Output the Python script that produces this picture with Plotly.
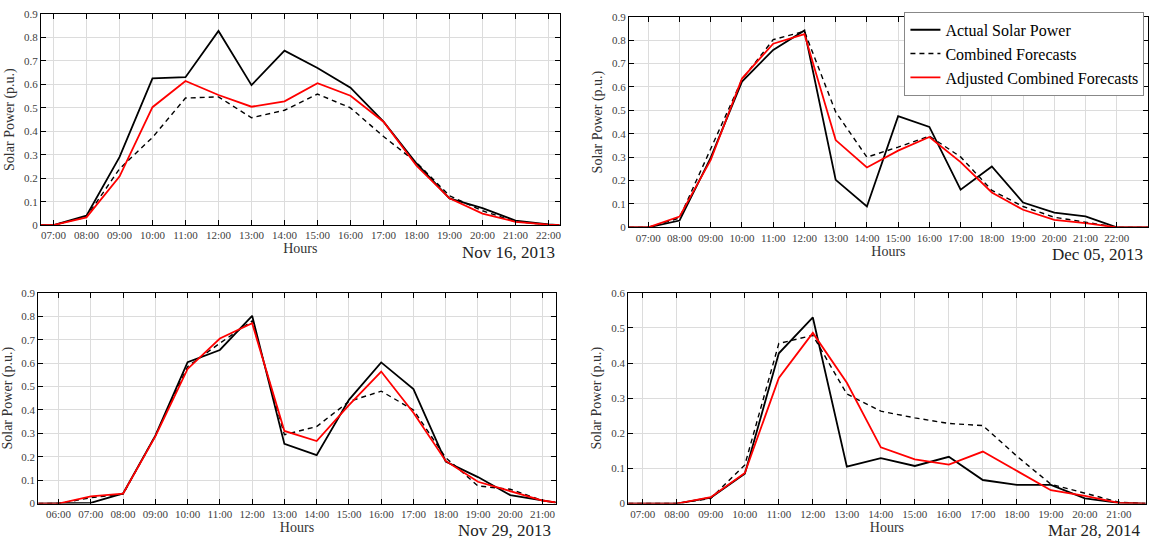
import plotly.graph_objects as go

# ---------------- data ----------------
# Nov 16, 2013
hours_a = [6.62, 7, 8, 9, 10, 11, 12, 13, 14, 15, 16, 17, 18, 19, 20, 21, 22, 22.34]
actual_a = [0, 0, 0.040, 0.290, 0.626, 0.631, 0.828, 0.597, 0.744, 0.670, 0.586, 0.441, 0.263, 0.114, 0.072, 0.019, 0.003, 0]
comb_a = [0, 0, 0.035, 0.240, 0.374, 0.542, 0.547, 0.458, 0.490, 0.559, 0.500, 0.378, 0.267, 0.125, 0.061, 0.014, 0.002, 0]
adj_a = [0, 0, 0.033, 0.207, 0.503, 0.615, 0.555, 0.505, 0.528, 0.605, 0.552, 0.441, 0.253, 0.114, 0.049, 0.014, 0.002, 0]

# Dec 05, 2013
hours_b = [6.38, 7, 8, 9, 10, 11, 12, 13, 14, 15, 16, 17, 18, 19, 20, 21, 22, 23.0]
actual_b = [0, 0, 0.029, 0.298, 0.623, 0.758, 0.841, 0.203, 0.089, 0.475, 0.429, 0.161, 0.260, 0.106, 0.063, 0.047, 0, 0]
comb_b = [0, 0, 0.040, 0.333, 0.632, 0.802, 0.838, 0.493, 0.300, 0.343, 0.390, 0.301, 0.158, 0.089, 0.043, 0.022, 0, 0]
adj_b = [0, 0, 0.046, 0.288, 0.636, 0.785, 0.826, 0.373, 0.256, 0.328, 0.386, 0.279, 0.149, 0.075, 0.032, 0.018, 0, 0]

# Nov 29, 2013
hours_c = [5.37, 6, 7, 8, 9, 10, 11, 12, 13, 14, 15, 16, 17, 18, 19, 20, 21, 21.41]
actual_c = [0, 0, 0.003, 0.043, 0.290, 0.604, 0.656, 0.802, 0.255, 0.207, 0.443, 0.603, 0.489, 0.179, 0.113, 0.036, 0.011, 0.004]
comb_c = [0, 0, 0.025, 0.040, 0.290, 0.585, 0.685, 0.780, 0.294, 0.329, 0.436, 0.480, 0.400, 0.196, 0.075, 0.061, 0.013, 0.005]
adj_c = [0, 0, 0.031, 0.042, 0.287, 0.575, 0.705, 0.770, 0.310, 0.267, 0.420, 0.564, 0.388, 0.182, 0.093, 0.054, 0.013, 0.005]

# Mar 28, 2014
hours_d = [6.57, 7, 8, 9, 10, 11, 12, 13, 14, 15, 16, 17, 18, 19, 20, 21, 21.79]
actual_d = [0, 0, 0, 0.017, 0.085, 0.428, 0.530, 0.105, 0.129, 0.107, 0.133, 0.067, 0.053, 0.053, 0.015, 0.002, 0]
comb_d = [0, 0, 0, 0.015, 0.110, 0.456, 0.479, 0.312, 0.263, 0.244, 0.228, 0.222, 0.135, 0.055, 0.029, 0.004, 0]
adj_d = [0, 0, 0, 0.018, 0.087, 0.358, 0.486, 0.344, 0.160, 0.126, 0.111, 0.148, 0.092, 0.038, 0.022, 0.002, 0]

series_names = ["Actual Solar Power", "Combined Forecasts", "Adjusted Combined Forecasts"]
dates = ["Nov 16, 2013", "Dec 05, 2013", "Nov 29, 2013", "Mar 28, 2014"]

ticks_a = list(range(7, 23))
ticks_b = list(range(7, 23))
ticks_c = list(range(6, 22))
ticks_d = list(range(7, 22))

yticks_09 = [0, 0.1, 0.2, 0.3, 0.4, 0.5, 0.6, 0.7, 0.8, 0.9]
yticks_06 = [0, 0.1, 0.2, 0.3, 0.4, 0.5, 0.6]

# ---------------- layout ----------------
W, H = 1156, 547
FONT = "Liberation Serif"

panels = [
    dict(h=hours_a, a=actual_a, c=comb_a, r=adj_a, ticks=ticks_a, yt=yticks_09, ymax=0.9,
         px=(41, 560.7), py=(8.3, 224), date=dates[0]),
    dict(h=hours_b, a=actual_b, c=comb_b, r=adj_b, ticks=ticks_b, yt=yticks_09, ymax=0.9,
         px=(630, 1150), py=(11, 226.3), date=dates[1]),
    dict(h=hours_c, a=actual_c, c=comb_c, r=adj_c, ticks=ticks_c, yt=yticks_09, ymax=0.9,
         px=(38.3, 556.7), py=(293.3, 508.7), date=dates[2]),
    dict(h=hours_d, a=actual_d, c=comb_d, r=adj_d, ticks=ticks_d, yt=yticks_06, ymax=0.6,
         px=(629.3, 1147.7), py=(293.3, 508.7), date=dates[3]),
]

fig = go.Figure()
annotations = []
for i, p in enumerate(panels, start=1):
    xa = "x" if i == 1 else f"x{i}"
    ya = "y" if i == 1 else f"y{i}"
    show = (i == 2)
    fig.add_trace(go.Scatter(x=p["h"], y=p["c"], mode="lines", name=series_names[1],
                             line=dict(color="black", width=1.4, dash="5px,4px"),
                             xaxis=xa, yaxis=ya, showlegend=show, legendrank=2))
    fig.add_trace(go.Scatter(x=p["h"], y=p["a"], mode="lines", name=series_names[0],
                             line=dict(color="black", width=1.8),
                             xaxis=xa, yaxis=ya, showlegend=show, legendrank=1))
    fig.add_trace(go.Scatter(x=p["h"], y=p["r"], mode="lines", name=series_names[2],
                             line=dict(color="#ff0000", width=1.8),
                             xaxis=xa, yaxis=ya, showlegend=show, legendrank=3))

    x0, x1 = p["px"]
    y0, y1 = p["py"]
    xdom = [x0 / W, x1 / W]
    ydom = [1 - y1 / H, 1 - y0 / H]
    common = dict(showline=True, linecolor="black", linewidth=1, mirror="ticks",
                  ticks="inside", ticklen=5, tickcolor="black",
                  showgrid=True, gridcolor="#dcdcdc", gridwidth=1, zeroline=False,
                  tickfont=dict(family=FONT, size=11, color="#404040"))
    key_x = "xaxis" if i == 1 else f"xaxis{i}"
    key_y = "yaxis" if i == 1 else f"yaxis{i}"
    fig.update_layout({
        key_x: dict(common, domain=xdom, anchor=ya, range=[p["h"][0], p["h"][-1]],
                    tickvals=p["ticks"], ticktext=[f"{t:02d}:00" for t in p["ticks"]],
                    title=dict(text="Hours", font=dict(family=FONT, size=14, color="#333"), standoff=1)),
        key_y: dict(common, domain=ydom, anchor=xa, range=[0, p["ymax"]],
                    tickvals=p["yt"], ticktext=[f"{v:g}" for v in p["yt"]],
                    title=dict(text="Solar Power (p.u.)", font=dict(family=FONT, size=14, color="#333"), standoff=6)),
    })
    annotations.append(dict(text=p["date"], xref="paper", yref="paper",
                            x=(x1 - 3) / W, y=1 - (y1 + 28) / H, xanchor="right", yanchor="middle",
                            showarrow=False, font=dict(family=FONT, size=17, color="#222")))

fig.update_layout(
    width=W, height=H, margin=dict(l=0, r=0, t=0, b=0),
    paper_bgcolor="white", plot_bgcolor="white",
    annotations=annotations,
    legend=dict(x=906 / W, y=1 - 6 / H, xanchor="left", yanchor="top",
                bgcolor="white", bordercolor="#888", borderwidth=1,
                font=dict(family=FONT, size=16, color="black"),
                itemwidth=30, tracegroupgap=0, traceorder="normal"),
    showlegend=True,
)

fig.write_html("out.html")
